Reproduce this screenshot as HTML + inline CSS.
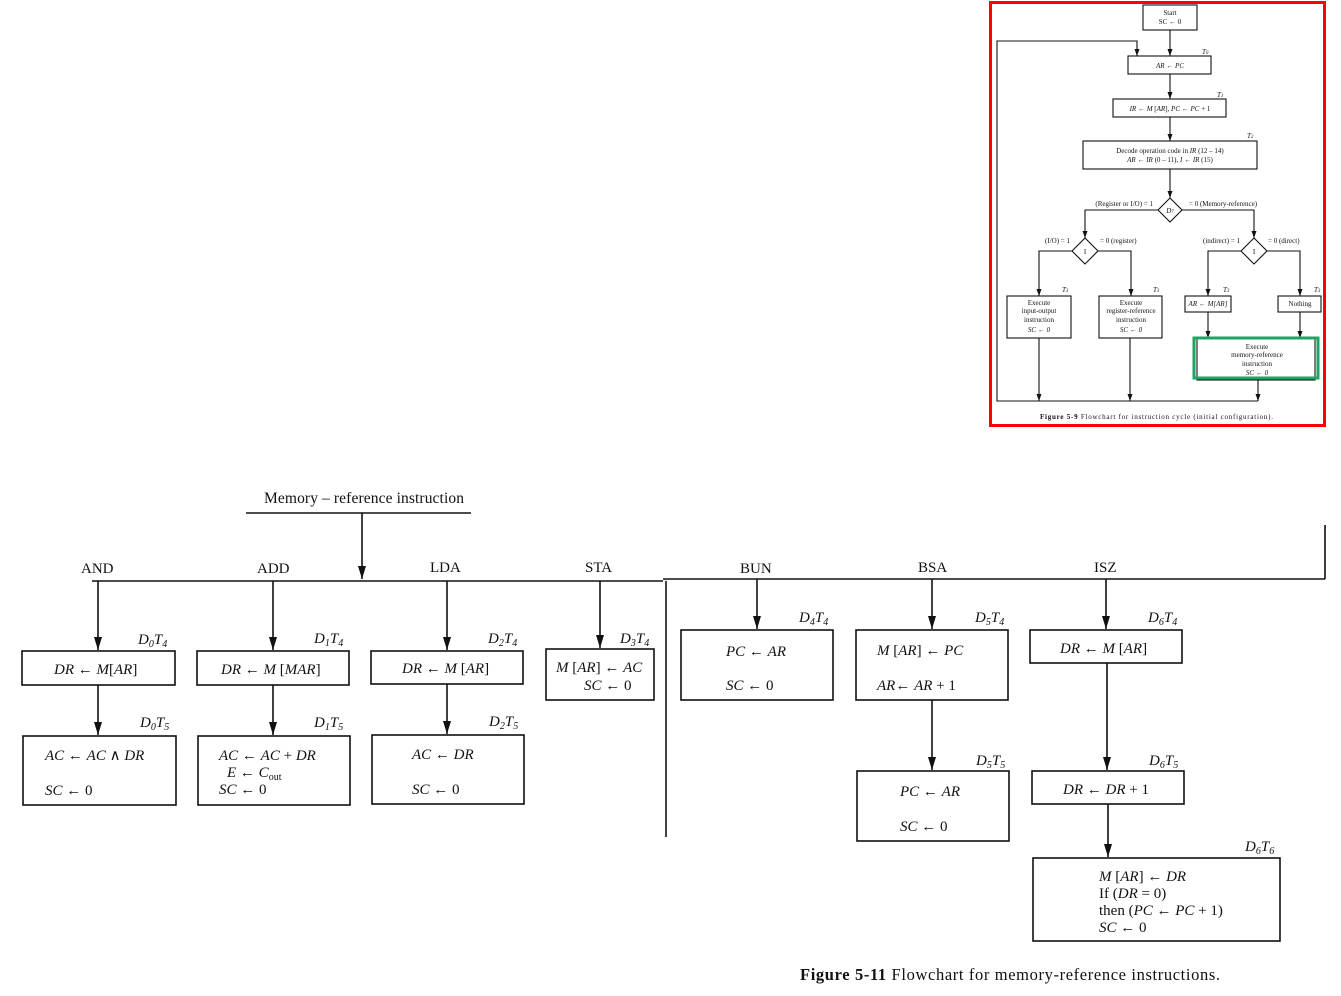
<!DOCTYPE html>
<html><head><meta charset="utf-8"><style>
html,body{margin:0;padding:0;background:#fff;}
svg{display:block;}
text{font-family:"Liberation Serif",serif;fill:#111;}
.l{font-size:15px;}
.i{font-style:italic;}
.s{font-size:7px;}
</style></head><body>
<svg width="1341" height="996" viewBox="0 0 1341 996" xmlns="http://www.w3.org/2000/svg">
<defs>
<marker id="a" markerWidth="10" markerHeight="14" refX="5" refY="13" markerUnits="userSpaceOnUse">
<path d="M1,0 L5,13 L9,0 Z" fill="#111"/>
</marker>
<marker id="b" markerWidth="6" markerHeight="8" refX="3" refY="7" markerUnits="userSpaceOnUse">
<path d="M0.5,0 L3,7 L5.5,0 Z" fill="#111"/>
</marker>
</defs>
<g stroke="#111" stroke-width="1.6" fill="none">
<line x1="246" y1="513" x2="471" y2="513"/>
<line x1="362" y1="513" x2="362" y2="579" marker-end="url(#a)"/>
<line x1="92" y1="581" x2="663" y2="581"/>
<line x1="663" y1="579" x2="1325" y2="579"/>
<line x1="1325" y1="525" x2="1325" y2="579"/>
<line x1="666" y1="581" x2="666" y2="837"/>
<line x1="98" y1="581" x2="98" y2="650" marker-end="url(#a)"/>
<rect x="22" y="651" width="153" height="34"/>
<line x1="98" y1="685" x2="98" y2="735" marker-end="url(#a)"/>
<rect x="23" y="736" width="153" height="69"/>
<line x1="273" y1="581" x2="273" y2="650" marker-end="url(#a)"/>
<rect x="197" y="651" width="152" height="34"/>
<line x1="273" y1="685" x2="273" y2="735" marker-end="url(#a)"/>
<rect x="198" y="736" width="152" height="69"/>
<line x1="447" y1="581" x2="447" y2="650" marker-end="url(#a)"/>
<rect x="371" y="651" width="152" height="33"/>
<line x1="447" y1="684" x2="447" y2="734" marker-end="url(#a)"/>
<rect x="372" y="735" width="152" height="69"/>
<line x1="600" y1="581" x2="600" y2="648" marker-end="url(#a)"/>
<rect x="546" y="649" width="108" height="51"/>
<line x1="757" y1="579" x2="757" y2="629" marker-end="url(#a)"/>
<rect x="681" y="630" width="152" height="70"/>
<line x1="932" y1="579" x2="932" y2="629" marker-end="url(#a)"/>
<rect x="856" y="630" width="152" height="70"/>
<line x1="932" y1="700" x2="932" y2="770" marker-end="url(#a)"/>
<rect x="857" y="771" width="152" height="70"/>
<line x1="1106" y1="579" x2="1106" y2="629" marker-end="url(#a)"/>
<rect x="1030" y="630" width="152" height="33"/>
<line x1="1107" y1="663" x2="1107" y2="770" marker-end="url(#a)"/>
<rect x="1032" y="771" width="152" height="33"/>
<line x1="1108" y1="804" x2="1108" y2="857" marker-end="url(#a)"/>
<rect x="1033" y="858" width="247" height="83"/>
</g>
<g class="l">
<text x="264" y="503" font-size="15.5" textLength="200">Memory – reference instruction</text>
<text x="81" y="573">AND</text><text x="257" y="573">ADD</text><text x="430" y="572">LDA</text>
<text x="585" y="572">STA</text><text x="740" y="573">BUN</text><text x="918" y="572">BSA</text><text x="1094" y="572">ISZ</text>
</g>
<g class="l i">
<text x="138" y="644">D<tspan font-size="10" dy="3">0</tspan><tspan dy="-3">T</tspan><tspan font-size="10" dy="3">4</tspan></text>
<text x="140" y="727">D<tspan font-size="10" dy="3">0</tspan><tspan dy="-3">T</tspan><tspan font-size="10" dy="3">5</tspan></text>
<text x="314" y="643">D<tspan font-size="10" dy="3">1</tspan><tspan dy="-3">T</tspan><tspan font-size="10" dy="3">4</tspan></text>
<text x="314" y="727">D<tspan font-size="10" dy="3">1</tspan><tspan dy="-3">T</tspan><tspan font-size="10" dy="3">5</tspan></text>
<text x="488" y="643">D<tspan font-size="10" dy="3">2</tspan><tspan dy="-3">T</tspan><tspan font-size="10" dy="3">4</tspan></text>
<text x="489" y="726">D<tspan font-size="10" dy="3">2</tspan><tspan dy="-3">T</tspan><tspan font-size="10" dy="3">5</tspan></text>
<text x="620" y="643">D<tspan font-size="10" dy="3">3</tspan><tspan dy="-3">T</tspan><tspan font-size="10" dy="3">4</tspan></text>
<text x="799" y="622">D<tspan font-size="10" dy="3">4</tspan><tspan dy="-3">T</tspan><tspan font-size="10" dy="3">4</tspan></text>
<text x="975" y="622">D<tspan font-size="10" dy="3">5</tspan><tspan dy="-3">T</tspan><tspan font-size="10" dy="3">4</tspan></text>
<text x="976" y="765">D<tspan font-size="10" dy="3">5</tspan><tspan dy="-3">T</tspan><tspan font-size="10" dy="3">5</tspan></text>
<text x="1148" y="622">D<tspan font-size="10" dy="3">6</tspan><tspan dy="-3">T</tspan><tspan font-size="10" dy="3">4</tspan></text>
<text x="1149" y="765">D<tspan font-size="10" dy="3">6</tspan><tspan dy="-3">T</tspan><tspan font-size="10" dy="3">5</tspan></text>
<text x="1245" y="851">D<tspan font-size="10" dy="3">6</tspan><tspan dy="-3">T</tspan><tspan font-size="10" dy="3">6</tspan></text>
</g>
<g class="l">
<text x="54" y="674"><tspan class="i">DR</tspan> ← <tspan class="i">M</tspan>[<tspan class="i">AR</tspan>]</text>
<text x="45" y="760"><tspan class="i">AC</tspan> ← <tspan class="i">AC</tspan> ∧ <tspan class="i">DR</tspan></text>
<text x="45" y="795"><tspan class="i">SC</tspan> ← 0</text>
<text x="221" y="674"><tspan class="i">DR</tspan> ← <tspan class="i">M</tspan> [<tspan class="i">MAR</tspan>]</text>
<text x="219" y="760"><tspan class="i">AC</tspan> ← <tspan class="i">AC</tspan> + <tspan class="i">DR</tspan></text>
<text x="227" y="777"><tspan class="i">E</tspan> ← <tspan class="i">C</tspan><tspan font-size="10" dy="3">out</tspan></text>
<text x="219" y="794"><tspan class="i">SC</tspan> ← 0</text>
<text x="402" y="673"><tspan class="i">DR</tspan> ← <tspan class="i">M</tspan> [<tspan class="i">AR</tspan>]</text>
<text x="412" y="759"><tspan class="i">AC</tspan> ← <tspan class="i">DR</tspan></text>
<text x="412" y="794"><tspan class="i">SC</tspan> ← 0</text>
<text x="556" y="672"><tspan class="i">M</tspan> [<tspan class="i">AR</tspan>] ← <tspan class="i">AC</tspan></text>
<text x="584" y="690"><tspan class="i">SC</tspan> ← 0</text>
<text x="726" y="656"><tspan class="i">PC</tspan> ← <tspan class="i">AR</tspan></text>
<text x="726" y="690"><tspan class="i">SC</tspan> ← 0</text>
<text x="877" y="655"><tspan class="i">M</tspan> [<tspan class="i">AR</tspan>] ← <tspan class="i">PC</tspan></text>
<text x="877" y="690"><tspan class="i">AR</tspan>← <tspan class="i">AR</tspan> + 1</text>
<text x="900" y="796"><tspan class="i">PC</tspan> ← <tspan class="i">AR</tspan></text>
<text x="900" y="831"><tspan class="i">SC</tspan> ← 0</text>
<text x="1060" y="653"><tspan class="i">DR</tspan> ← <tspan class="i">M</tspan> [<tspan class="i">AR</tspan>]</text>
<text x="1063" y="794"><tspan class="i">DR</tspan> ← <tspan class="i">DR</tspan> + 1</text>
<text x="1099" y="881"><tspan class="i">M</tspan> [<tspan class="i">AR</tspan>] ← <tspan class="i">DR</tspan></text>
<text x="1099" y="898">If (<tspan class="i">DR</tspan> = 0)</text>
<text x="1099" y="915">then (<tspan class="i">PC</tspan> ← <tspan class="i">PC</tspan> + 1)</text>
<text x="1099" y="932"><tspan class="i">SC</tspan> ← 0</text>
<text x="800" y="980" font-size="16.5" textLength="420"><tspan font-weight="bold">Figure 5-11</tspan>   Flowchart for memory-reference instructions.</text>
</g>

<!-- inset -->
<g stroke="#111" stroke-width="1.1" fill="none">
<rect x="1143" y="5" width="54" height="25"/>
<line x1="1170" y1="30" x2="1170" y2="56" marker-end="url(#b)"/>
<polyline points="1039,401 997,401 997,41 1137,41 1137,56" marker-end="url(#b)"/>
<rect x="1128" y="56" width="83" height="18"/>
<line x1="1170" y1="74" x2="1170" y2="99" marker-end="url(#b)"/>
<rect x="1113" y="99" width="113" height="18"/>
<line x1="1170" y1="117" x2="1170" y2="141" marker-end="url(#b)"/>
<rect x="1083" y="141" width="174" height="28"/>
<line x1="1170" y1="169" x2="1170" y2="198" marker-end="url(#b)"/>
<polygon points="1170,198 1182,210 1170,222 1158,210"/>
<polyline points="1158,210 1085,210 1085,238" marker-end="url(#b)"/>
<polyline points="1182,210 1254,210 1254,238" marker-end="url(#b)"/>
<polygon points="1085,238 1098,251 1085,264 1072,251"/>
<polygon points="1254,238 1267,251 1254,264 1241,251"/>
<polyline points="1072,251 1039,251 1039,296" marker-end="url(#b)"/>
<polyline points="1098,251 1131,251 1131,296" marker-end="url(#b)"/>
<polyline points="1241,251 1208,251 1208,296" marker-end="url(#b)"/>
<polyline points="1267,251 1300,251 1300,296" marker-end="url(#b)"/>
<rect x="1007" y="296" width="64" height="42"/>
<rect x="1099" y="296" width="63" height="42"/>
<rect x="1185" y="296" width="46" height="16"/>
<rect x="1278" y="296" width="43" height="16"/>
<line x1="1208" y1="312" x2="1208" y2="338" marker-end="url(#b)"/>
<line x1="1300" y1="312" x2="1300" y2="338" marker-end="url(#b)"/>
<rect x="1197" y="338" width="118" height="42"/>
<line x1="1039" y1="338" x2="1039" y2="401" marker-end="url(#b)"/>
<line x1="1130" y1="338" x2="1130" y2="401" marker-end="url(#b)"/>
<line x1="997" y1="401" x2="1258" y2="401"/>
<line x1="1258" y1="380" x2="1258" y2="401" marker-end="url(#b)"/>
</g>
<g class="s" text-anchor="middle">
<text x="1170" y="15">Start</text><text x="1170" y="24">SC ← 0</text>
<text x="1170" y="68" class="i">AR ← PC</text>
<text x="1170" y="111"><tspan class="i">IR</tspan> ← <tspan class="i">M</tspan> [<tspan class="i">AR</tspan>],  <tspan class="i">PC</tspan> ← <tspan class="i">PC</tspan> + 1</text>
<text x="1170" y="153">Decode operation code in <tspan class="i">IR</tspan> (12 – 14)</text>
<text x="1170" y="162"><tspan class="i">AR</tspan> ← <tspan class="i">IR</tspan> (0 – 11),  <tspan class="i">I</tspan> ← <tspan class="i">IR</tspan> (15)</text>
<text x="1170" y="213" class="i">D<tspan font-size="5">7</tspan></text>
<text x="1085" y="254">I</text><text x="1254" y="254">I</text>
<text x="1039" y="305">Execute</text><text x="1039" y="313">input-output</text><text x="1039" y="322">instruction</text><text x="1039" y="332" class="i">SC ← 0</text>
<text x="1131" y="305">Execute</text><text x="1131" y="313">register-reference</text><text x="1131" y="322">instruction</text><text x="1131" y="332" class="i">SC ← 0</text>
<text x="1208" y="306" class="i">AR ← M[AR]</text>
<text x="1300" y="306">Nothing</text>
<text x="1257" y="349">Execute</text><text x="1257" y="357">memory-reference</text><text x="1257" y="366">instruction</text><text x="1257" y="375" class="i">SC ← 0</text>
</g>
<g class="s">
<text x="1153" y="206" text-anchor="end">(Register or I/O)  = 1</text>
<text x="1189" y="206">= 0  (Memory-reference)</text>
<text x="1070" y="243" text-anchor="end">(I/O)  = 1</text>
<text x="1100" y="243">= 0  (register)</text>
<text x="1240" y="243" text-anchor="end">(indirect)  = 1</text>
<text x="1268" y="243">= 0  (direct)</text>
<text x="1202" y="54" class="i">T<tspan font-size="5">0</tspan></text>
<text x="1217" y="97" class="i">T<tspan font-size="5">1</tspan></text>
<text x="1247" y="138" class="i">T<tspan font-size="5">2</tspan></text>
<text x="1062" y="292" class="i">T<tspan font-size="5">3</tspan></text>
<text x="1153" y="292" class="i">T<tspan font-size="5">3</tspan></text>
<text x="1223" y="292" class="i">T<tspan font-size="5">3</tspan></text>
<text x="1314" y="292" class="i">T<tspan font-size="5">3</tspan></text>
<text x="1040" y="419" textLength="233"><tspan font-weight="bold">Figure 5-9</tspan>   Flowchart for instruction cycle (initial configuration).</text>
</g>
<rect x="1194" y="338" width="124" height="40" fill="none" stroke="#1fa463" stroke-width="3"/>
<rect x="990.5" y="2.5" width="334" height="423" fill="none" stroke="#f00" stroke-width="3"/>
</svg>
</body></html>
